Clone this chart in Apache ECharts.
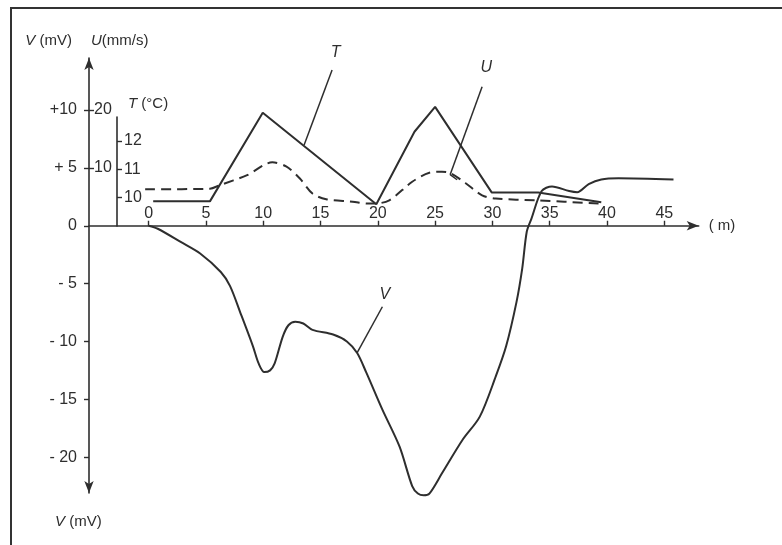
<!DOCTYPE html>
<html>
<head>
<meta charset="utf-8">
<title>V, U, T profile</title>
<script src="https://cdn.jsdelivr.net/npm/echarts@6/dist/echarts.min.js"></script>
<style>
  html, body { margin: 0; padding: 0; background: #fff; }
  #main { width: 782px; height: 545px; }
</style>
</head>
<body>
<div id="main"></div>
<script>
// distance along the profile (m)
var xTicks = [0, 5, 10, 15, 20, 25, 30, 35, 40, 45];
var vTicks = [-20, -15, -10, -5, 0, 5, 10];
var uTicks = [10, 20];
var tTicks = [10, 11, 12];

// V (mV) potential curve
var vDist = [0, 0.8, 2.8, 4.5, 6.3, 7.1, 8.0, 9.1, 9.6, 10.1, 10.6, 11.0, 11.7, 12.2, 12.8, 13.5, 14.3, 16.1, 17.3, 18.2, 19.0, 20.4, 21.9, 23.0, 23.5, 24.0, 24.5, 25.6, 27.4, 28.9, 30.3, 31.2, 32.1, 32.6, 33.0, 33.4, 34.3, 35.2, 36.7, 37.4, 38.4, 39.5, 41.0, 45.8];
var vMv   = [0, -0.26, -1.4, -2.4, -4.0, -5.2, -7.5, -10.4, -11.9, -12.65, -12.5, -11.9, -9.6, -8.6, -8.3, -8.45, -9.0, -9.4, -10.0, -11.0, -12.7, -15.9, -19.1, -22.5, -23.15, -23.3, -23.15, -21.4, -18.5, -16.5, -13.0, -10.4, -6.6, -3.7, -0.5, 0.6, 3.0, 3.4, 3.0, 2.9, 3.6, 4.0, 4.1, 4.0];

// U (mm/s) dashed curve
var uDist  = [-0.3, 5.35, 6.2, 8.6, 10.8, 12.0, 13.2, 14.3, 15.5, 17.8, 19.1, 19.7, 21.0, 23.0, 24.5, 25.6, 26.4, 27.7, 29.1, 30.3, 33.8, 39.5];
var uSpeed = [6.3, 6.4, 7.0, 8.75, 10.96, 10.26, 8.17, 5.57, 4.57, 4.17, 3.83, 3.83, 4.4, 7.6, 9.17, 9.34, 9.04, 7.3, 5.27, 4.7, 4.4, 3.83];

// T (°C) broken line
var tDist = [0.4, 5.35, 9.96, 19.87, 23.2, 25.0, 29.95, 34.0, 39.5];
var tTemp = [9.87, 9.87, 13.0, 9.77, 12.33, 13.21, 10.18, 10.18, 9.84];

function zip(a, b) {
  var out = [];
  for (var i = 0; i < a.length; i++) out.push([a[i], b[i]]);
  return out;
}

var ink = '#2e2e2e';
var font = 'Liberation Sans';

// V range of the main grid, used to put the distance axis on V = 0
var vMin = -23.1, vMax = 14.5;
var gridTop = 58, gridBottom = 52, chartH = 545;
var plotH = chartH - gridTop - gridBottom;
var zeroOffset = -plotH * (0 - vMin) / (vMax - vMin);

// leader lines (in each series' own data units)
function leader(from, to, text, dist) {
  return [
    { coord: from },
    { coord: to, label: { show: !!text, formatter: text, distance: dist } }
  ];
}

var chart = echarts.init(document.getElementById('main'), null, { renderer: 'canvas' });

var option = {
  backgroundColor: '#ffffff',
  animation: false,
  textStyle: { fontFamily: font, color: ink },
  grid: [
    { left: 89, right: 83.3, top: gridTop, bottom: gridBottom, containLabel: false },
    { left: 117, width: 10, top: 117, bottom: 319, containLabel: false }
  ],
  xAxis: [
    {
      type: 'value', gridIndex: 0, min: -5.2, max: 48, position: 'bottom', offset: zeroOffset,
      name: '( m)', nameLocation: 'end', nameGap: 10,
      nameTextStyle: { fontSize: 15, color: ink, fontFamily: font },
      axisLine: { show: true, onZero: false, symbol: ['none', 'arrow'], symbolSize: [7, 12],
        lineStyle: { color: ink, width: 1.6 } },
      axisTick: { show: true, inside: true, length: 5, customValues: xTicks, lineStyle: { color: ink, width: 1.4 } },
      axisLabel: { show: true, inside: true, margin: 4, customValues: xTicks, fontSize: 16, color: ink, fontFamily: font },
      splitLine: { show: false }
    },
    { type: 'value', gridIndex: 1, min: 0, max: 1, show: false }
  ],
  yAxis: [
    {
      // V (mV)
      type: 'value', gridIndex: 0, min: vMin, max: vMax, position: 'left',
      name: '{i|V} (mV)', nameLocation: 'end', nameGap: 10,
      nameTextStyle: { align: 'right', padding: [0, 17, 0, 0], fontSize: 15, color: ink, fontFamily: font,
        rich: { i: { fontStyle: 'italic', fontSize: 15, fontFamily: font, color: ink } } },
      axisLine: { show: true, onZero: false, symbol: ['arrow', 'arrow'], symbolSize: [7, 12],
        lineStyle: { color: ink, width: 1.6 } },
      axisTick: { show: true, inside: false, length: 5, customValues: vTicks, lineStyle: { color: ink, width: 1.4 } },
      axisLabel: {
        show: true, margin: 12, customValues: vTicks, fontSize: 16, color: ink, fontFamily: font,
        formatter: function (v) {
          if (v > 0) return v < 10 ? '+ ' + v : '+' + v;
          if (v < 0) return '- ' + (-v);
          return '0';
        }
      },
      splitLine: { show: false }
    },
    {
      // U (mm/s), shares the V axis line
      type: 'value', gridIndex: 0, min: 2 * vMin, max: 2 * vMax, position: 'left',
      name: '{i|U}(mm/s)', nameLocation: 'end', nameGap: 10,
      nameTextStyle: { align: 'left', padding: [0, 0, 0, 2], fontSize: 15, color: ink, fontFamily: font,
        rich: { i: { fontStyle: 'italic', fontSize: 15, fontFamily: font, color: ink } } },
      axisLine: { show: false, onZero: false },
      axisTick: { show: true, inside: true, length: 5, customValues: uTicks, lineStyle: { color: ink, width: 1.4 } },
      axisLabel: { show: true, inside: true, margin: 5, customValues: uTicks, fontSize: 16, color: ink, fontFamily: font },
      splitLine: { show: false }
    },
    {
      // hidden T scale used to draw the T line in the main grid
      type: 'value', gridIndex: 0, min: -0.435, max: 14.936, position: 'right', show: false,
      axisLine: { onZero: false }, splitLine: { show: false }
    },
    {
      // visible short T axis
      type: 'value', gridIndex: 1, min: 9, max: 12.85, position: 'left',
      name: '{i|T} (°C)', nameLocation: 'end', nameGap: 6,
      nameTextStyle: { align: 'left', padding: [0, 0, 0, 11], fontSize: 15, color: ink, fontFamily: font,
        rich: { i: { fontStyle: 'italic', fontSize: 15, fontFamily: font, color: ink } } },
      axisLine: { show: true, onZero: false, lineStyle: { color: ink, width: 1.6 } },
      axisTick: { show: true, inside: true, length: 5, customValues: tTicks, lineStyle: { color: ink, width: 1.4 } },
      axisLabel: { show: true, inside: true, margin: 7, customValues: tTicks, fontSize: 16, color: ink, fontFamily: font },
      splitLine: { show: false }
    }
  ],
  series: [
    {
      name: 'V', type: 'line', xAxisIndex: 0, yAxisIndex: 0,
      data: zip(vDist, vMv), smooth: 0.3, showSymbol: false, clip: false,
      lineStyle: { color: ink, width: 2 },
      markLine: {
        silent: true, symbol: 'none', animation: false,
        lineStyle: { color: ink, width: 1.5, type: 'solid' },
        label: { position: 'end', fontSize: 16, fontStyle: 'italic', color: ink, fontFamily: font },
        data: [leader([18.19, -10.98], [20.4, -7.0], 'V', 5)]
      }
    },
    {
      name: 'U', type: 'line', xAxisIndex: 0, yAxisIndex: 1,
      data: zip(uDist, uSpeed), smooth: 0.3, showSymbol: false, clip: false,
      lineStyle: { color: ink, width: 2, type: [10, 6] },
      markLine: {
        silent: true, symbol: 'none', animation: false,
        lineStyle: { color: ink, width: 1.5, type: 'solid' },
        label: { position: 'end', fontSize: 16, fontStyle: 'italic', color: ink, fontFamily: font },
        data: [
          leader([26.31, 8.82], [29.1, 24.03], 'U', 12),
          leader([26.31, 8.82], [26.92, 7.95], '', 0)
        ]
      }
    },
    {
      name: 'T', type: 'line', xAxisIndex: 0, yAxisIndex: 2,
      data: zip(tDist, tTemp), showSymbol: false, clip: false,
      lineStyle: { color: ink, width: 2 },
      markLine: {
        silent: true, symbol: 'none', animation: false,
        lineStyle: { color: ink, width: 1.5, type: 'solid' },
        label: { position: 'end', fontSize: 16, fontStyle: 'italic', color: ink, fontFamily: font },
        data: [leader([13.57, 11.86], [16.01, 14.51], 'T', 10)]
      }
    }
  ],
  graphic: [
    {
      // scan frame (left and top edges)
      type: 'polyline', silent: true,
      shape: { points: [[11, 545], [11, 8], [782, 8]] },
      style: { stroke: '#333', lineWidth: 2, fill: null }
    },
    {
      type: 'text', left: 55, top: 514, silent: true,
      style: { text: '{i|V} (mV)', fontSize: 15, fontFamily: font, fill: ink,
        rich: { i: { fontStyle: 'italic', fontSize: 15, fontFamily: font, fill: ink } } }
    }
  ]
};

chart.setOption(option);
</script>
</body>
</html>
